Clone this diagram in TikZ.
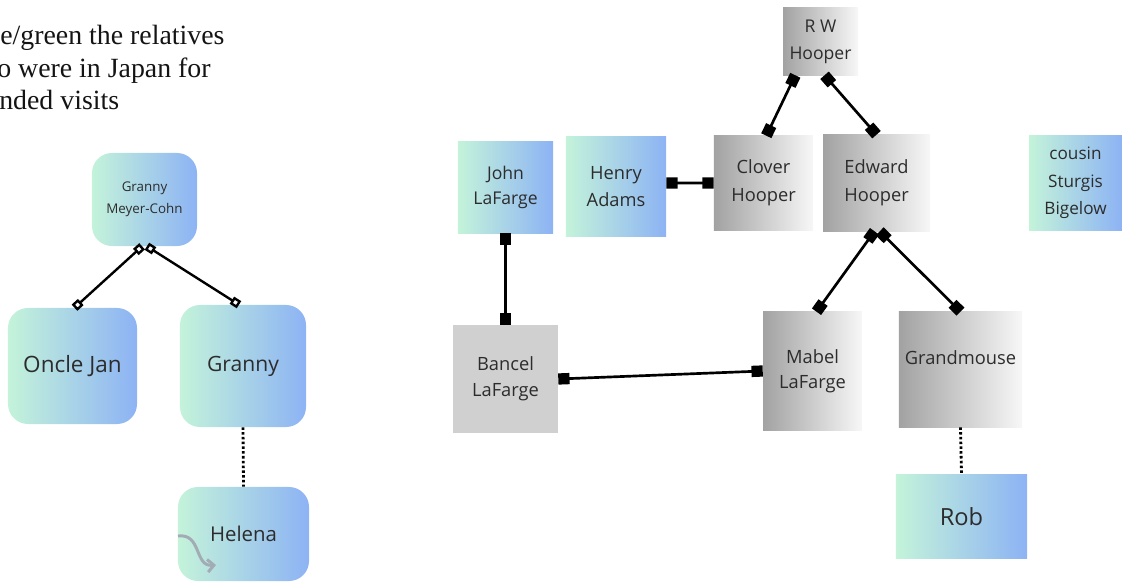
\documentclass[tikz,border=0pt]{standalone}
\usepackage{fontspec}
\setmainfont{Liberation Serif}
\newfontfamily\boxfont{Open Sans}
\usetikzlibrary{arrows.meta}
\definecolor{mint}{HTML}{C4F3DA}
\definecolor{sky}{HTML}{8DB3F4}
\definecolor{darkgrey}{HTML}{A2A2A2}
\definecolor{palegrey}{HTML}{F7F7F7}
\definecolor{flatgrey}{HTML}{D0D0D0}
\definecolor{inkgrey}{HTML}{2C2C2C}
\definecolor{curlgrey}{HTML}{A3ACB4}
\newcommand{\bsize}[2]{\boxfont\fontsize{#1}{#2}\selectfont}
\tikzset{
  person/.style={rectangle,inner sep=2pt,align=center,text=inkgrey},
  bluebox/.style={person,left color=mint,right color=sky,rounded corners=0.5cm},
  tealbox/.style={person,left color=mint,right color=sky},
  greybox/.style={person,left color=darkgrey,right color=palegrey},
  flatbox/.style={person,fill=flatgrey},
  kinlink/.style={line width=1.7pt,{Square[open,length=6pt,width=6pt,fill=white]}-{Square[open,length=6pt,width=6pt,fill=white]}},
  parentlink/.style={line width=1.9pt,{Square[length=8pt,width=8pt]}-{Square[length=8pt,width=8pt]}},
  dotlink/.style={line width=2pt,dash pattern=on 1.8pt off 1.6pt}
}
\begin{document}
\begin{tikzpicture}[x=0.025cm,y=-0.025cm]
\useasboundingbox (0,0) rectangle (1122,583);
% title, cut at the left edge
\node[anchor=base west,inner sep=0pt,font=\fontsize{19.8}{23.5}\selectfont,text=black!92] (title1) at (0,45) {e/green the relatives};
\node[anchor=base west,inner sep=0pt,font=\fontsize{19.8}{23.5}\selectfont,text=black!92] (title2) at (-3,78) {o were in Japan for};
\node[anchor=base west,inner sep=0pt,font=\fontsize{19.8}{23.5}\selectfont,text=black!92] (title3) at (-1,110) {nded visits};
% Meyer-Cohn side
\node[bluebox,minimum width=2.625cm,minimum height=2.325cm,font=\bsize{9.5}{15.5}] (gmc) at (144.5,199.5) {Granny\\Meyer-Cohn};
\node[bluebox,minimum width=3.225cm,minimum height=2.9cm,font=\bsize{16}{19}] (oncle) at (72.5,366) {Oncle Jan};
\node[bluebox,minimum width=3.15cm,minimum height=3.05cm,font=\bsize{15}{18}] (granny) at (243,366) {Granny};
\node[bluebox,minimum width=3.275cm,minimum height=2.35cm,font=\bsize{14.5}{18}] (helena) at (243.5,534) {Helena};
\draw[line width=2.1pt,curlgrey,-{Straight Barb[length=4.5pt,width=9pt]}] (178,536) .. controls (202,533) and (194,567) .. (216,565);
\draw[kinlink] ([xshift=-0.06cm]gmc.south) -- ([xshift=0.05cm]oncle.north);
\draw[kinlink] ([xshift=0.06cm]gmc.south) -- ([xshift=-0.1cm]granny.north);
\draw[dotlink] (granny.south) -- (helena.north);
% Hooper side
\node[greybox,minimum width=1.875cm,minimum height=1.675cm,font=\bsize{12.5}{19}] (rw) at (820.5,41.5) {R W\\Hooper};
\node[greybox,minimum width=2.475cm,minimum height=2.35cm,font=\bsize{13}{20}] (clover) at (763.5,183) {Clover\\Hooper};
\node[greybox,minimum width=2.675cm,minimum height=2.4cm,font=\bsize{13}{20}] (edward) at (876.5,183) {Edward\\Hooper};
\node[tealbox,minimum width=2.375cm,minimum height=2.275cm,font=\bsize{12.5}{17.5}] (john) at (505.5,187.5) {John\\LaFarge};
\node[tealbox,minimum width=2.5cm,minimum height=2.475cm,font=\bsize{13}{19}] (henry) at (616,186.5) {Henry\\Adams};
\node[tealbox,minimum width=2.325cm,minimum height=2.35cm,font=\bsize{12.2}{19.5}] (cousin) at (1075.5,183) {cousin\\Sturgis\\Bigelow};
\node[flatbox,minimum width=2.625cm,minimum height=2.7cm,font=\bsize{13}{18.5}] (bancel) at (505.5,379) {Bancel\\LaFarge};
\node[greybox,minimum width=2.475cm,minimum height=2.95cm,font=\bsize{13}{18}] (mabel) at (812.5,371) {Mabel\\LaFarge};
\node[greybox,minimum width=3.075cm,minimum height=2.875cm,text depth=0.62cm,font=\bsize{13}{18}] (grandmouse) at (960.5,369.5) {Grandmouse};
\node[tealbox,minimum width=3.275cm,minimum height=2.075cm,font=\bsize{16.8}{20}] (rob) at (961.5,516.5) {Rob};
\draw[parentlink] ([xshift=-0.63cm]rw.south) -- ([xshift=0.07cm]clover.north);
\draw[parentlink] ([xshift=0.1cm]rw.south) -- (edward.north);
\draw[parentlink] ([yshift=0.09cm]henry.east) -- (clover.west);
\draw[parentlink] (john.south) -- (bancel.north);
\draw[parentlink] (bancel.east) -- (mabel.west);
\draw[parentlink] ([xshift=-0.05cm]edward.south) -- ([xshift=0.1cm]mabel.north);
\draw[parentlink] ([xshift=0.08cm]edward.south) -- (grandmouse.north);
\draw[dotlink] (grandmouse.south) -- (rob.north);
\end{tikzpicture}
\end{document}
